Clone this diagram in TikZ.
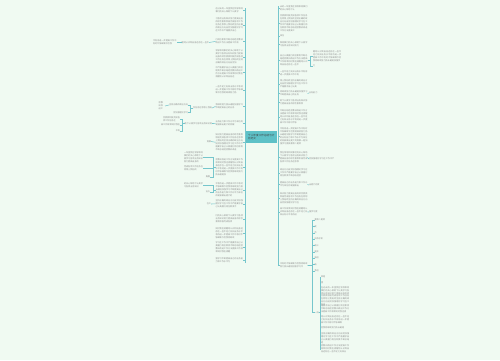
\documentclass[tikz,border=0pt]{standalone}
\usepackage{fontspec}
\newfontfamily\cjk{Noto Sans CJK SC}
\XeTeXlinebreaklocale "zh"
\XeTeXlinebreakskip=0pt plus 0.3pt
\definecolor{bgc}{RGB}{240,250,242}
\definecolor{lc}{RGB}{118,198,204}
\definecolor{tc}{RGB}{140,140,140}
\definecolor{cc}{RGB}{94,193,199}
\ExplSyntaxOn
\tl_const:Nn \c_fz_tl {在过去的一年里我在领导和同事们的关心帮助下认真学习各项业务知识努力提高自身的综合素质积极完成各项工作任务在思想上我始终坚持正确的政治方向自觉加强理论学习在工作中严格要求自己认真履行岗位职责不断总结经验教训改进工作方法提高工作效率同时我也清醒地认识到自身还存在一些不足之处如业务水平有待进一步提高工作中有时不够细致今后我将继续努力扬长避短加强学习不断提高自己的业务能力和工作水平为单位的发展做出更大的贡献一是加强学习提高素质二是转变作风务求实效三是开拓创新争创一流四是团结协作形成合力}
\cs_new:Npn \fzt #1#2 { \tl_range:Nnn \c_fz_tl {#1} {#1+#2-1} }
\ExplSyntaxOff
\tikzset{
  conn/.style={draw=lc, line width=0.55pt},
  tx/.style={font=\cjk\fontsize{2.1}{2.9}\selectfont, text=tc, inner sep=0pt, outer sep=0pt},
  lb/.style={tx, anchor=north east, text width=27.5pt, align=left},
  rb/.style={tx, anchor=north west, text width=27.5pt, align=left},
  ll/.style={tx, anchor=east},
  rl/.style={tx, anchor=west},
  center/.style={fill=cc, minimum width=31pt, minimum height=12pt, text width=27pt, align=left, inner sep=2pt, anchor=north west, font=\cjk\fontsize{2.6}{3.4}\selectfont, text=black!75}
}
\newcommand\LM[4]{\node[lb] (#1) at (243,#2) {\fzt{#3}{#4}};\draw[conn] (#1.east) -- (#1.east -| ltop);}
\newcommand\RM[4]{\node[rb] (#1) at (280,#2) {\fzt{#3}{#4}};\draw[conn] (#1.west) -- (#1.west -| rtop);}
\begin{document}
\begin{tikzpicture}[x=1pt,y=-1pt]
\fill[bgc] (0,0) rectangle (500,360);
\useasboundingbox (0,0) rectangle (500,360);
\node[center] (c) at (246,131) {个人年度工作总结与计划范文};
\coordinate (ltop) at (245,8);
\coordinate (lbot) at (245,263);
\coordinate (rtop) at (278,6);
\coordinate (rbot) at (278,266);
\draw[conn] (ltop) -- (lbot);
\draw[conn] (rtop) -- (rbot);
% left side
\LM{a1}{8}{1}{24}
\LM{a2}{18}{25}{62}
\LM{a3}{39}{90}{24}
\node[ll] (a3c) at (209,42.5) {\fzt{120}{13}};
\draw[conn] (a3.west) -- (a3c.east);
\node[tx,anchor=east,text width=24pt,align=left] (a3g) at (177,42.5) {\fzt{140}{20}};
\draw[conn] (a3c.west) -- (a3g.east);
\LM{a4}{50}{10}{62}
\LM{a5}{67}{80}{48}
\LM{a6}{86}{130}{36}
\LM{a7}{104}{160}{22}
\node[ll] (a7c) at (212,108) {\fzt{50}{9}};
\draw[conn] (a7.west) -- (a7c.east);
\node[ll] (a7g1) at (188,105) {\fzt{60}{9}};
\node[ll] (a7g2) at (188,112.5) {\fzt{70}{7}};
\draw[conn] (a7c.west) -- ++(-2.5,0) |- (a7g1.east);
\draw[conn] (a7c.west) -- ++(-2.5,0) |- (a7g2.east);
\node[tx,anchor=east,text width=6.3pt,align=left] (a7h) at (165,106) {\fzt{100}{6}};
\draw[conn] (a7g1.west) -- (a7h.east);
\LM{a8}{121}{180}{22}
\node[ll] (a8c) at (212,123.5) {\fzt{20}{13}};
\draw[conn] (a8.west) -- (a8c.east);
\node[tx,anchor=east,text width=17pt,align=left] (a8g1) at (180,119.5) {\fzt{40}{14}};
\node[ll] (a8g2) at (180,125) {\fzt{110}{9}};
\node[ll] (a8g3) at (180,131) {\fzt{150}{2}};
\draw[conn] (a8c.west) -- ++(-2.5,0) |- (a8g1.east);
\draw[conn] (a8c.west) -- ++(-2.5,0) |- (a8g2.east);
\draw[conn] (a8c.west) -- ++(-2.5,0) |- (a8g3.east);
\LM{a9}{134}{30}{75}
\node[ll] (a9c) at (211,141.5) {\fzt{200}{2}};
\draw[conn] (a9.west) -- (a9c.east);
\LM{a10}{159}{100}{70}
\node[tx,anchor=north east,text width=19pt,align=left] (a10c1) at (203,152) {\fzt{5}{34}};
\node[tx,anchor=north east,text width=19pt,align=left] (a10c2) at (203,166) {\fzt{45}{15}};
\node[ll] (a10c3) at (210,177) {\fzt{88}{2}};
\draw[conn] (a10.west) -- ++(-2.5,0) |- (a10c1.east);
\draw[conn] (a10.west) -- ++(-2.5,0) |- (a10c2.east);
\draw[conn] (a10.west) -- ++(-2.5,0) |- (a10c3.east);
\LM{a11}{183}{140}{60}
\node[tx,anchor=north east,text width=19pt,align=left] (a11c1) at (203,183) {\fzt{16}{16}};
\node[ll] (a11c2) at (210,192) {\fzt{66}{2}};
\draw[conn] (a11.west) -- ++(-2.5,0) |- (a11c1.east);
\draw[conn] (a11.west) -- ++(-2.5,0) |- (a11c2.east);
\LM{a12}{200}{60}{36}
\node[ll] (a12c) at (211,204) {\fzt{77}{2}};
\draw[conn] (a12.west) -- (a12c.east);
\LM{a13}{215}{15}{34}
\LM{a14}{228}{115}{48}
\LM{a15}{242}{75}{46}
\LM{a16}{258}{170}{20}
% right side
\RM{b1}{6}{3}{20}
\RM{b2}{15}{40}{72}
\RM{b3}{35}{190}{2}
\RM{b4}{42}{12}{22}
\RM{b5}{55}{85}{48}
\node[tx,anchor=north west,text width=29.4pt,align=left] (b5c1) at (313,51) {\fzt{120}{52}};
\node[rl] (b5c2) at (313,66) {\fzt{33}{1}};
\draw[conn] (b5.east) -- ++(3,0) |- (b5c1.west);
\draw[conn] (b5.east) -- ++(3,0) |- (b5c2.west);
\RM{b6}{71}{130}{22}
\RM{b7}{80}{55}{34}
\RM{b8}{91}{160}{22}
\node[rl] (b8c) at (309,93) {\fzt{180}{4}};
\draw[conn] (b8.east) -- (b8c.west);
\RM{b9}{100}{20}{24}
\RM{b10}{110}{95}{60}
\RM{b11}{128}{140}{75}
\RM{b12}{152}{8}{48}
\node[rl] (b12c) at (309,159) {\fzt{70}{12}};
\draw[conn] (b12.east) -- (b12c.west);
\RM{b13}{169}{65}{36}
\RM{b14}{182}{175}{22}
\node[rl] (b14c) at (309,185) {\fzt{196}{5}};
\draw[conn] (b14.east) -- (b14c.west);
\RM{b15}{193}{30}{48}
\RM{b16}{208}{110}{34}
\node[rl] (b16c) at (309,212) {\fzt{205}{4}};
\draw[conn] (b16.east) -- (b16c.west);
\RM{b17}{263}{150}{24}
\node[rl] (e1) at (314.5,220) {\fzt{210}{5}};
\node[rl] (e2) at (314.5,226.5) {\fzt{215}{1}};
\node[rl] (e3) at (314.5,233) {\fzt{216}{1}};
\node[rl] (e4) at (314.5,239) {\fzt{217}{4}};
\node[rl] (e5) at (314.5,245.5) {\fzt{221}{2}};
\node[rl] (e6) at (314.5,252) {\fzt{223}{2}};
\node[rl] (e7) at (314.5,258) {\fzt{225}{2}};
\node[rl] (e8) at (314.5,264.5) {\fzt{227}{1}};
\node[rl] (e9) at (314.5,271) {\fzt{228}{2}};
\node[rl] (e10) at (314.5,312.5) {\fzt{230}{2}};
\foreach \e in {e1,e2,e3,e4,e5,e6,e7,e8,e9,e10}
  \draw[conn] (b17.east) -- ++(4.5,0) |- (\e.west);
\node[rl] (d1) at (321,277) {\fzt{232}{2}};
\node[rl] (d2) at (321,283) {\fzt{234}{1}};
\node[tx,anchor=north west,text width=29.4pt,align=left] (d3) at (321,286.5) {\fzt{1}{80}};
\node[tx,anchor=north west,text width=29.4pt,align=left] (d4) at (321,305) {\fzt{82}{38}};
\node[tx,anchor=north west,text width=29.4pt,align=left] (d5) at (321,316) {\fzt{121}{36}};
\node[rl] (d6) at (321,327.5) {\fzt{158}{11}};
\node[tx,anchor=north west,text width=29.4pt,align=left] (d7) at (321,333) {\fzt{60}{40}};
\node[tx,anchor=north west,text width=29.4pt,align=left] (d8) at (321,345) {\fzt{100}{38}};
\foreach \d in {d1,d2,d3,d4,d5,d6,d7,d8}
  \draw[conn] (e10.east) -- ++(1.5,0) |- (\d.west);
\end{tikzpicture}
\end{document}
